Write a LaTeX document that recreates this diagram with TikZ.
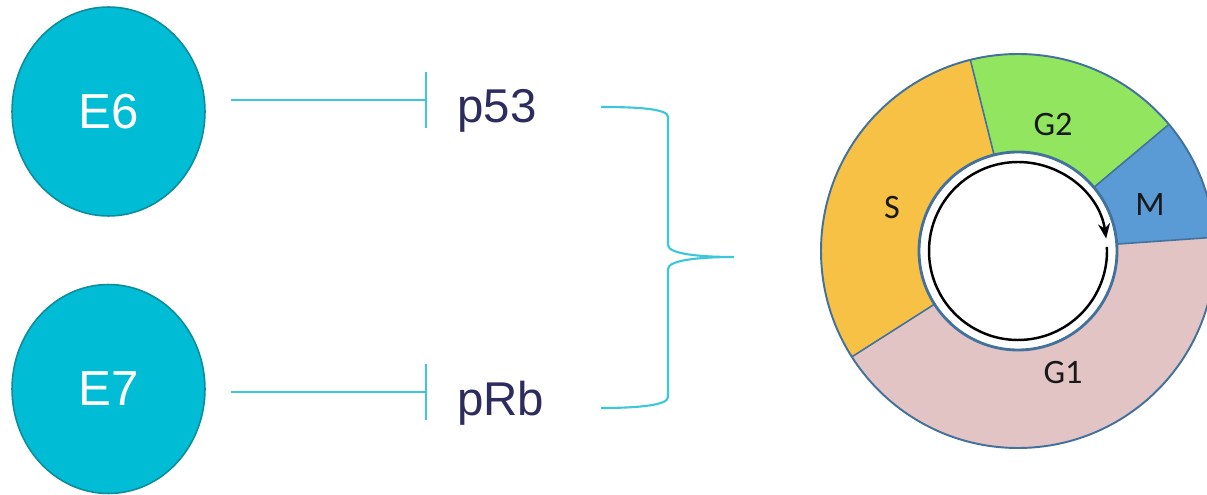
\documentclass[tikz,border=0pt]{standalone}
\usepackage{fontspec}
\setmainfont{Liberation Sans}
\newfontfamily\calfont{Carlito}
\usetikzlibrary{shapes.geometric,arrows.meta}

\definecolor{virus}{HTML}{00BDD5}
\definecolor{virusedge}{HTML}{0F8C9C}
\definecolor{link}{HTML}{3CC7DA}
\definecolor{protein}{HTML}{2E2B5F}
\definecolor{ringedge}{HTML}{41719C}
\definecolor{phaseS}{HTML}{F6C144}
\definecolor{phaseGtwo}{HTML}{92E65F}
\definecolor{phaseM}{HTML}{5B9BD5}
\definecolor{phaseGone}{HTML}{E2C4C4}

\tikzset{
  oncoprotein/.style={ellipse, fill=virus, draw=virusedge, line width=0.9pt,
    minimum width=3.86cm, minimum height=4.18cm, inner sep=0pt,
    text=white, font=\fontsize{28}{32}\selectfont},
  target/.style={anchor=base west, inner sep=0pt, text=protein,
    font=\fontsize{27}{31}\selectfont},
  inhib/.style={draw=link, line width=1.2pt, -{Bar[width=1.14cm, line width=1.2pt]}},
  bracket/.style={draw=link, line width=1.2pt},
  phase/.style={draw=ringedge, line width=0.9pt},
  phaselabel/.style={font=\calfont\fontsize{19.5}{22}\selectfont, text=black!90},
}

\begin{document}
\begin{tikzpicture}[x=0.02cm, y=0.02cm]
\clip (0,0) rectangle (1207,494);
\fill[white] (0,0) rectangle (1207,494);

% viral oncoproteins
\node[oncoprotein] (E6) at (108.5,382.5) {E6};
\node[oncoprotein] (E7) at (108.5,105) {E7};

% their targets
\node[target] (p53) at (457,371) {p53};
\node[target] (pRb) at (457,79) {pRb};

% inhibition lines
\coordinate (e6out) at (231,394);
\coordinate (e6bar) at (427,394);
\coordinate (e7out) at (231,102);
\coordinate (e7bar) at (427,102);
\draw[inhib] (e6out) -- (e6bar);
\draw[inhib] (e7out) -- (e7bar);

% curly bracket joining both targets
\coordinate (brtop) at (601,387);
\coordinate (brtip) at (734,237);
\coordinate (brbot) at (601,86);
\draw[bracket] (brtop) .. controls (640,387) and (668,385) .. (668,377)
  -- (668,249) .. controls (668,240) and (700,237) .. (brtip)
  .. controls (700,237) and (668,234) .. (668,225)
  -- (668,97) .. controls (668,89) and (640,86) .. (brbot);

% cell cycle ring
\coordinate (cc) at (1018,243);
\def\Rout{197}
\fill[phaseGtwo] (cc) -- ++(40:\Rout) arc[start angle=40, end angle=104, radius=\Rout] -- cycle;
\fill[phaseM] (cc) -- ++(4:\Rout) arc[start angle=4, end angle=40, radius=\Rout] -- cycle;
\fill[phaseS] (cc) -- ++(104:\Rout) arc[start angle=104, end angle=212.5, radius=\Rout] -- cycle;
\fill[phaseGone] (cc) -- ++(212.5:\Rout) arc[start angle=212.5, end angle=364, radius=\Rout] -- cycle;
\foreach \a in {4,40,104,212.5}
  \draw[phase] (cc) -- ++(\a:\Rout);
\draw[phase, line width=1.1pt] (cc) circle[radius=\Rout];
\draw[phase, line width=1.6pt, fill=white] (cc) circle[radius=99];

% direction of the cycle
\draw[line width=1.4pt, -{Stealth[length=0.3cm, width=0.24cm]}]
  (cc) ++(2.6:89) arc[start angle=2.6, end angle=-352, radius=89];

\node[phaselabel] (G2) at (1053,369) {G2};
\node[phaselabel] (M) at (1150,289) {M};
\node[phaselabel] (S) at (892,286) {S};
\node[phaselabel] (G1) at (1063,121) {G1};
\end{tikzpicture}
\end{document}
